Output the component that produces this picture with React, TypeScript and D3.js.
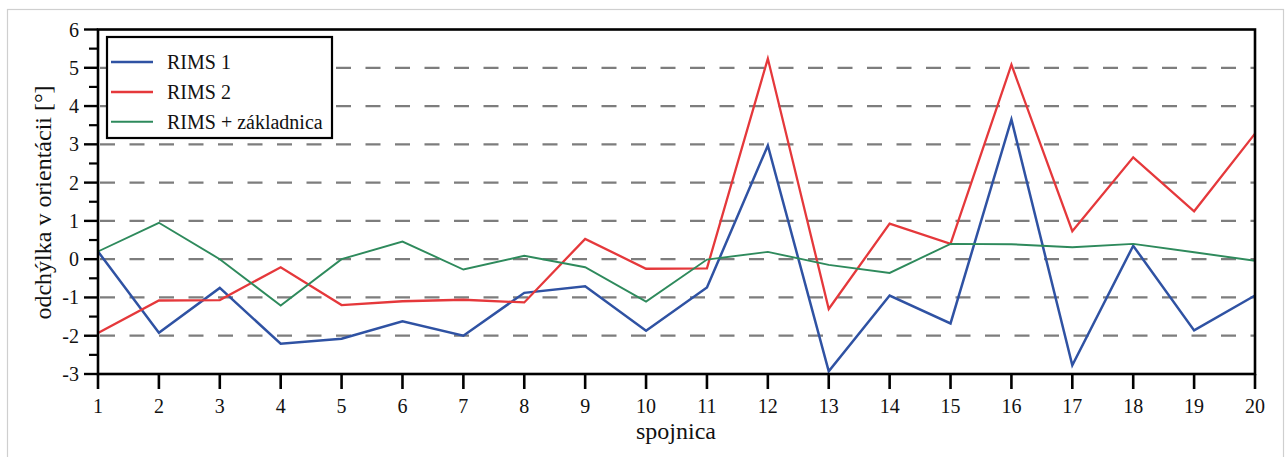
import React from "react";
import * as d3 from "d3";

const categories = [1, 2, 3, 4, 5, 6, 7, 8, 9, 10, 11, 12, 13, 14, 15, 16, 17, 18, 19, 20];
const rims1 = [0.2, -1.92, -0.75, -2.21, -2.08, -1.62, -2.0, -0.88, -0.71, -1.87, -0.74, 2.97, -2.93, -0.95, -1.68, 3.65, -2.77, 0.35, -1.86, -0.95];
const rims2 = [-1.93, -1.08, -1.07, -0.21, -1.2, -1.1, -1.06, -1.13, 0.53, -0.25, -0.24, 5.24, -1.3, 0.93, 0.4, 5.08, 0.73, 2.66, 1.25, 3.28];
const rimsBase = [0.2, 0.95, 0.0, -1.21, 0.0, 0.46, -0.27, 0.09, -0.21, -1.11, -0.01, 0.19, -0.15, -0.36, 0.4, 0.39, 0.31, 0.4, 0.18, -0.04];
const yTicks = [-3, -2, -1, 0, 1, 2, 3, 4, 5, 6];
const gridValues = [-2, -1, 0, 1, 2, 3, 4, 5];
const seriesNames = ["RIMS 1", "RIMS 2", "RIMS + základnica"];

const FONT = "Liberation Serif, DejaVu Serif, serif";

export default function App() {
  const W = 1287, H = 457;
  const left = 98, right = 1255, top = 29.5, bottom = 374;
  const x = d3.scaleLinear().domain([1, 20]).range([left, right]);
  const y = d3.scaleLinear().domain([-3, 6]).range([bottom, top]);
  const line = d3
    .line<number>()
    .x((_, i) => x(categories[i]))
    .y((d) => y(d));

  const series = [
    { name: seriesNames[0], data: rims1, color: "#2f52a3", width: 2.5 },
    { name: seriesNames[1], data: rims2, color: "#e5383b", width: 2.3 },
    { name: seriesNames[2], data: rimsBase, color: "#2e8a5c", width: 1.9 },
  ];

  const minor = d3.range(-2.5, 6, 1);
  const ts: React.CSSProperties = { fontFamily: FONT };

  return (
    <div style={{ position: "absolute", left: 0, top: 0 }}>
      <svg width={W} height={H} style={{ display: "block", background: "#fff", fontFamily: FONT }}>
        <rect x={7.5} y={9.5} width={1276} height={470} fill="#fff" stroke="#cfcfcf" strokeWidth={1.2} />
        {gridValues.map((v) => (
          <line
            key={v}
            x1={left}
            x2={right}
            y1={y(v)}
            y2={y(v)}
            stroke="#7d7d7d"
            strokeWidth={2.2}
            strokeDasharray="15 14.5"
            strokeDashoffset={-2}
          />
        ))}
        {series.map((s) => (
          <path key={s.name} d={line(s.data) || ""} fill="none" stroke={s.color} strokeWidth={s.width} strokeLinejoin="miter" />
        ))}
        <rect x={left} y={top} width={right - left} height={bottom - top} fill="none" stroke="#000" strokeWidth={2.6} />
        {yTicks.map((t) => (
          <g key={t}>
            <line x1={left - 14} x2={left} y1={y(t)} y2={y(t)} stroke="#000" strokeWidth={2.4} />
            <text x={79} y={y(t)} dy="0.35em" textAnchor="end" fontSize={20} fill="#111" style={ts}>
              {t < 0 ? `-${Math.abs(t)}` : t}
            </text>
          </g>
        ))}
        {minor.map((t) => (
          <line key={t} x1={left - 9} x2={left} y1={y(t)} y2={y(t)} stroke="#000" strokeWidth={2.2} />
        ))}
        {categories.map((c) => (
          <g key={c}>
            <line x1={x(c)} x2={x(c)} y1={bottom} y2={bottom + 15} stroke="#000" strokeWidth={2.6} />
            <text x={x(c)} y={413} textAnchor="middle" fontSize={20} fill="#111" style={ts}>
              {c}
            </text>
          </g>
        ))}
        <text x={676} y={439} textAnchor="middle" fontSize={24} fill="#111" style={ts}>
          spojnica
        </text>
        <text transform="translate(51,202.5) rotate(-90)" textAnchor="middle" fontSize={24} fill="#111" style={ts}>
          odchýlka v orientácii [°]
        </text>
        <rect x={107} y={37} width={225} height={101} fill="#fff" stroke="#000" strokeWidth={2.2} />
        {series.map((s, i) => {
          const ly = [62, 92, 121.7][i];
          const ty = [69, 99, 128.5][i];
          return (
            <g key={s.name}>
              <line x1={111} x2={153} y1={ly} y2={ly} stroke={s.color} strokeWidth={s.width} />
              <text x={167} y={ty} fontSize={20} fill="#111" style={ts}>
                {s.name}
              </text>
            </g>
          );
        })}
      </svg>
    </div>
  );
}
